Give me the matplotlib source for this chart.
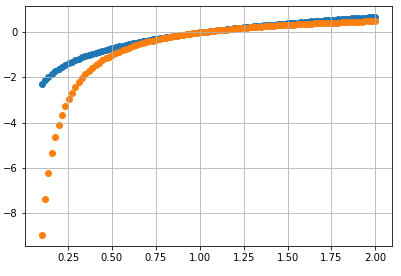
import matplotlib
matplotlib.use('Agg')
import matplotlib.pyplot as plt

# x positions of the points
x_vals = [
    0.100, 0.119, 0.138, 0.158, 0.177, 0.196, 0.215, 0.234, 0.254, 0.273,
    0.292, 0.311, 0.330, 0.349, 0.369, 0.388, 0.407, 0.426, 0.445, 0.465,
    0.484, 0.503, 0.522, 0.541, 0.561, 0.580, 0.599, 0.618, 0.637, 0.657,
    0.676, 0.695, 0.714, 0.733, 0.753, 0.772, 0.791, 0.810, 0.829, 0.848,
    0.868, 0.887, 0.906, 0.925, 0.944, 0.964, 0.983, 1.002, 1.021, 1.040,
    1.060, 1.079, 1.098, 1.117, 1.136, 1.156, 1.175, 1.194, 1.213, 1.232,
    1.252, 1.271, 1.290, 1.309, 1.328, 1.347, 1.367, 1.386, 1.405, 1.424,
    1.443, 1.463, 1.482, 1.501, 1.520, 1.539, 1.559, 1.578, 1.597, 1.616,
    1.635, 1.655, 1.674, 1.693, 1.712, 1.731, 1.751, 1.770, 1.789, 1.808,
    1.827, 1.846, 1.866, 1.885, 1.904, 1.923, 1.942, 1.962, 1.981, 2.000,
]

# blue series
blue_vals = [
    -2.30, -2.13, -1.98, -1.85, -1.73, -1.63, -1.54, -1.45, -1.37, -1.30,
    -1.23, -1.17, -1.11, -1.05, -1.00, -0.95, -0.90, -0.85, -0.81, -0.77,
    -0.73, -0.69, -0.65, -0.61, -0.58, -0.55, -0.51, -0.48, -0.45, -0.42,
    -0.39, -0.36, -0.34, -0.31, -0.28, -0.26, -0.23, -0.21, -0.19, -0.16,
    -0.14, -0.12, -0.10, -0.08, -0.06, -0.04, -0.02, 0.00, 0.02, 0.04,
    0.06, 0.08, 0.09, 0.11, 0.13, 0.14, 0.16, 0.18, 0.19, 0.21,
    0.22, 0.24, 0.25, 0.27, 0.28, 0.30, 0.31, 0.33, 0.34, 0.35,
    0.37, 0.38, 0.39, 0.41, 0.42, 0.43, 0.44, 0.46, 0.47, 0.48,
    0.49, 0.50, 0.52, 0.53, 0.54, 0.55, 0.56, 0.57, 0.58, 0.59,
    0.60, 0.61, 0.62, 0.63, 0.64, 0.65, 0.66, 0.67, 0.68, 0.69,
]

# orange series
orange_vals = [
    -9.00, -7.39, -6.23, -5.35, -4.66, -4.10, -3.65, -3.27, -2.94, -2.67,
    -2.43, -2.21, -2.03, -1.86, -1.71, -1.58, -1.46, -1.35, -1.24, -1.15,
    -1.07, -0.99, -0.91, -0.85, -0.78, -0.72, -0.67, -0.62, -0.57, -0.52,
    -0.48, -0.44, -0.40, -0.36, -0.33, -0.30, -0.26, -0.23, -0.21, -0.18,
    -0.15, -0.13, -0.10, -0.08, -0.06, -0.04, -0.02, 0.00, 0.02, 0.04,
    0.06, 0.07, 0.09, 0.10, 0.12, 0.13, 0.15, 0.16, 0.18, 0.19,
    0.20, 0.21, 0.22, 0.24, 0.25, 0.26, 0.27, 0.28, 0.29, 0.30,
    0.31, 0.32, 0.33, 0.33, 0.34, 0.35, 0.36, 0.37, 0.37, 0.38,
    0.39, 0.40, 0.40, 0.41, 0.42, 0.42, 0.43, 0.43, 0.44, 0.45,
    0.45, 0.46, 0.46, 0.47, 0.47, 0.48, 0.49, 0.49, 0.50, 0.50,
]

dpi = 72
fig = plt.figure(figsize=(401 / dpi, 276 / dpi), dpi=dpi)
ax = fig.add_axes([25 / 401, 1 - 246 / 276, 367 / 401, 240 / 276])

ax.scatter(x_vals, blue_vals, color='#1f77b4')
ax.scatter(x_vals, orange_vals, color='#ff7f0e')
ax.grid(True)

fig.savefig('out.png', dpi=dpi)
